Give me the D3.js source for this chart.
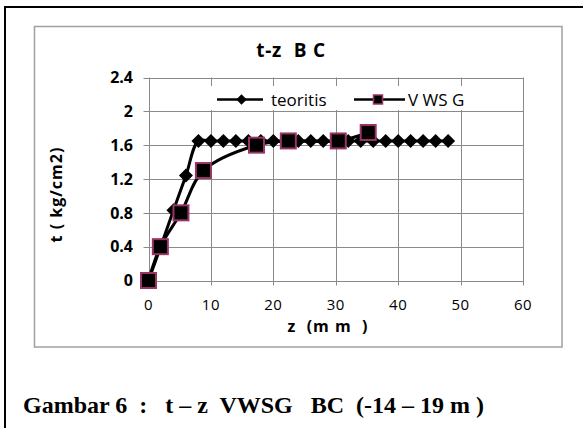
<!DOCTYPE html>
<html>
<head>
<meta charset="utf-8">
<script src="https://cdn.jsdelivr.net/npm/d3@7/dist/d3.min.js"></script>
<style>
  html, body { margin: 0; padding: 0; background: #fff; }
  svg text { white-space: pre; }
</style>
</head>
<body>
<script>
// t-z curve: theoretical vs. VWSG readings
const teoritisZ = [0, 2, 4, 6, 8, 10, 12, 14, 16, 18, 20, 22, 24, 26, 28, 30, 32, 34, 36, 38, 40, 42, 44, 46, 48];
const teoritisT = [0, 0.41, 0.83, 1.24, 1.65, 1.65, 1.65, 1.65, 1.65, 1.65, 1.65, 1.65, 1.65, 1.65, 1.65, 1.65, 1.65, 1.65, 1.65, 1.65, 1.65, 1.65, 1.65, 1.65, 1.65];
const vwsgZ = [0, 1.9, 5.2, 8.8, 17.3, 22.4, 30.4, 35.2];
const vwsgT = [0, 0.4, 0.8, 1.3, 1.6, 1.65, 1.65, 1.75];
const xTicks = [0, 10, 20, 30, 40, 50, 60];
const yTicks = [0, 0.4, 0.8, 1.2, 1.6, 2, 2.4];
const seriesNames = ["teoritis", "V WS G"];
const chartTitle = "t-z  B C";
const xTitle = "z  (m m  )";
const yTitle = "t ( kg/cm2)";
const caption = "Gambar 6  :   t \u2013 z  VWSG   BC  (-14 \u2013 19 m )";

const W = 587, H = 428;
const sans = "'Open Sans', 'DejaVu Sans', sans-serif";
const grid = "#8a8a8a";
const squareEdge = "#9a3467";

const svg = d3.select("body").append("svg")
  .attr("width", W).attr("height", H);

// outer frame (top and left edges)
svg.append("path")
  .attr("d", "M5,428 L5,7 L583,7")
  .attr("fill", "none").attr("stroke", "#000").attr("stroke-width", 2);

// chart area border
svg.append("rect")
  .attr("x", 34.5).attr("y", 26.5).attr("width", 527.5).attr("height", 320.5)
  .attr("fill", "#fff").attr("stroke", "#a0a0a0").attr("stroke-width", 1.5);

const x = d3.scaleLinear().domain([0, 60]).range([148.5, 523]);
const y = d3.scaleLinear().domain([0, 2.4]).range([280.5, 77.5]);

// horizontal gridlines + y ticks
svg.append("g").selectAll("line").data(yTicks).join("line")
  .attr("x1", x(0) - 5).attr("x2", x(60))
  .attr("y1", d => Math.round(y(d)) + 0.5).attr("y2", d => Math.round(y(d)) + 0.5)
  .attr("stroke", grid).attr("stroke-width", 1);

// vertical gridlines + x ticks
svg.append("g").selectAll("line").data(xTicks).join("line")
  .attr("x1", d => Math.round(x(d)) + 0.5).attr("x2", d => Math.round(x(d)) + 0.5)
  .attr("y1", y(2.4)).attr("y2", y(0) + 5)
  .attr("stroke", grid).attr("stroke-width", 1);

// y tick labels
svg.append("g").selectAll("text").data(yTicks).join("text")
  .attr("x", 133).attr("y", d => y(d))
  .attr("dy", "0.36em").attr("text-anchor", "end")
  .attr("font-family", sans).attr("font-weight", "bold").attr("font-size", 16)
  .attr("fill", "#000")
  .text(d => String(d));

// x tick labels
svg.append("g").selectAll("text").data(xTicks).join("text")
  .attr("x", d => x(d)).attr("y", 310)
  .attr("text-anchor", "middle")
  .attr("font-family", sans).attr("font-size", 15)
  .attr("letter-spacing", 0.5)
  .attr("fill", "#000")
  .text(d => String(d));

// titles
svg.append("text")
  .attr("x", 291).attr("y", 57).attr("text-anchor", "middle")
  .attr("font-family", sans).attr("font-weight", "bold").attr("font-size", 19)
  .attr("letter-spacing", 0.8)
  .text(chartTitle);

svg.append("text")
  .attr("x", 328).attr("y", 332).attr("text-anchor", "middle")
  .attr("font-family", sans).attr("font-weight", "bold").attr("font-size", 16)
  .attr("letter-spacing", 1)
  .text(xTitle);

svg.append("text")
  .attr("transform", "translate(62,194.5) rotate(-90)")
  .attr("text-anchor", "middle")
  .attr("font-family", sans).attr("font-weight", "bold").attr("font-size", 16)
  .attr("letter-spacing", 1)
  .text(yTitle);

// legend
const lg = svg.append("g");
lg.append("rect").attr("x", 210).attr("y", 86).attr("width", 262).attr("height", 24)
  .attr("fill", "#fff");
lg.append("line").attr("x1", 217).attr("x2", 263).attr("y1", 99.5).attr("y2", 99.5)
  .attr("stroke", "#000").attr("stroke-width", 2.5);
lg.append("path").attr("d", d3.symbol(d3.symbolDiamond2, 70)())
  .attr("transform", "translate(241.5,99.5)").attr("fill", "#000");
lg.append("text").attr("x", 271).attr("y", 105.5)
  .attr("font-family", sans).attr("font-size", 17).text(seriesNames[0]);
lg.append("line").attr("x1", 354).attr("x2", 405).attr("y1", 99.5).attr("y2", 99.5)
  .attr("stroke", "#000").attr("stroke-width", 2.5);
lg.append("rect").attr("x", 373.5).attr("y", 95).attr("width", 9).attr("height", 9)
  .attr("fill", "#000").attr("stroke", squareEdge).attr("stroke-width", 1.5);
lg.append("text").attr("x", 408).attr("y", 105.5)
  .attr("font-family", sans).attr("font-size", 17).text(seriesNames[1]);

// series
const teoritis = teoritisZ.map((z, i) => [z, teoritisT[i]]);
const vwsg = vwsgZ.map((z, i) => [z, vwsgT[i]]);
const line = d3.line().x(d => x(d[0])).y(d => y(d[1]))
  .curve(d3.curveCatmullRom.alpha(0.5));

svg.append("path").datum(teoritis).attr("d", line)
  .attr("fill", "none").attr("stroke", "#000").attr("stroke-width", 3);
svg.append("g").selectAll("path").data(teoritis).join("path")
  .attr("d", d3.symbol(d3.symbolDiamond2, 125)())
  .attr("transform", d => `translate(${x(d[0])},${y(d[1])})`)
  .attr("fill", "#000");

svg.append("path").datum(vwsg).attr("d", line)
  .attr("fill", "none").attr("stroke", "#000").attr("stroke-width", 3);
svg.append("g").selectAll("rect").data(vwsg).join("rect")
  .attr("x", d => x(d[0]) - 7.5).attr("y", d => y(d[1]) - 7.5)
  .attr("width", 15).attr("height", 15)
  .attr("fill", "#000").attr("stroke", squareEdge).attr("stroke-width", 2);

// caption
svg.append("text")
  .attr("x", 23).attr("y", 413)
  .attr("font-family", "'Liberation Serif', 'Times New Roman', serif")
  .attr("font-weight", "bold").attr("font-size", 24)
  .text(caption);
</script>
</body>
</html>
